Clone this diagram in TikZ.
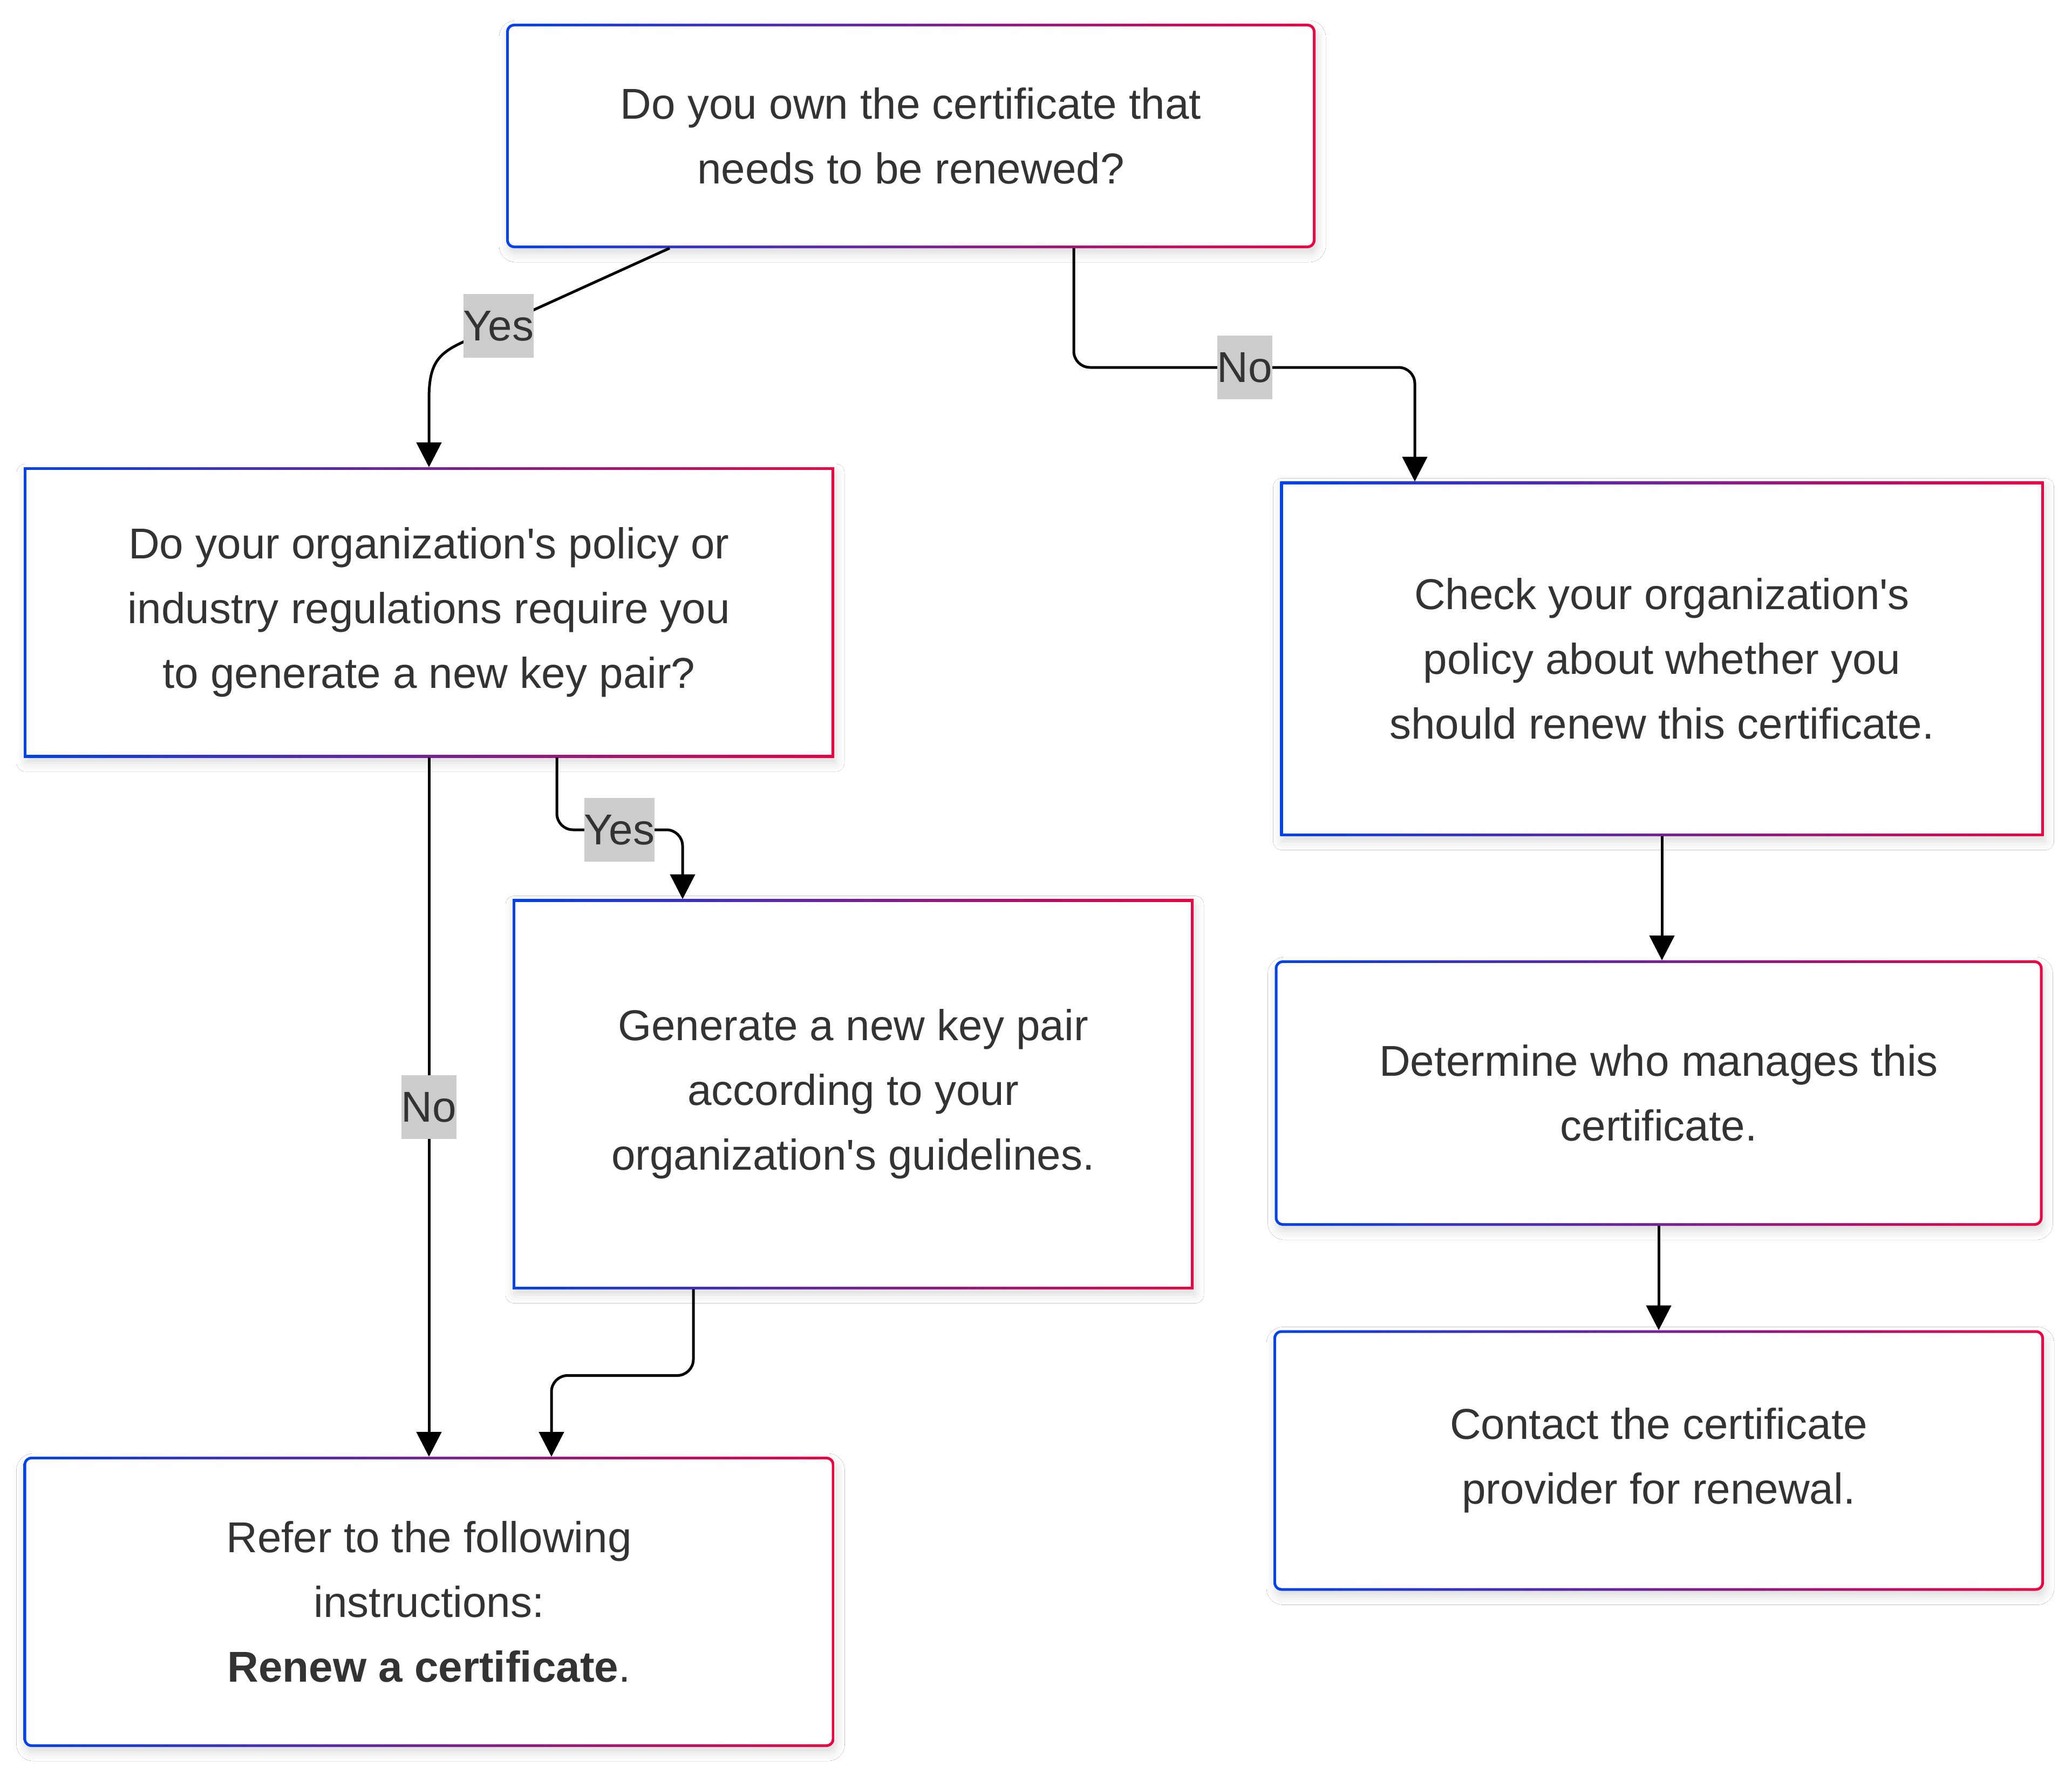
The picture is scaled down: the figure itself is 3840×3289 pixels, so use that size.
\documentclass[tikz,border=0pt]{standalone}
\usepackage{fontspec}
\usepackage{tikz}
\usetikzlibrary{arrows.meta,shadows.blur}
\newfontfamily\flowfont{Liberation Sans}
\definecolor{cblue}{HTML}{0042EB}
\definecolor{cred}{HTML}{EB0042}
\definecolor{txt}{HTML}{333333}
\definecolor{lblgray}{HTML}{CCCCCC}
\newcommand{\apos}{\textquotesingle}

\begin{document}
\begin{tikzpicture}[x=1pt,y=-1pt]

\tikzset{boxbase/.style = {rectangle, inner sep=0pt, outer sep=0pt, align=center, text=txt,
  font=\flowfont\fontsize{80}{120}\selectfont, left color=cblue, right color=cred,
  blur shadow={shadow xshift=3pt, shadow yshift=-10pt, shadow blur radius=16pt, shadow opacity=14}}}
\tikzset{sqbox/.style = {boxbase, path picture={\fill[white] ([shift={(5pt,-5pt)}]path picture bounding box.north west) rectangle ([shift={(-5pt,5pt)}]path picture bounding box.south east);}}}
\tikzset{rndbox/.style = {boxbase, rounded corners=15pt, path picture={\fill[white, rounded corners=10pt] ([shift={(5pt,-5pt)}]path picture bounding box.north west) rectangle ([shift={(-5pt,5pt)}]path picture bounding box.south east);}}}
\tikzset{lbl/.style = {sharp corners, fill=lblgray, text=txt, inner xsep=0pt, inner ysep=0pt, minimum height=118pt, font=\flowfont\fontsize{80}{120}\selectfont}}
\tikzset{edge/.style = {-{Triangle[length=46pt,width=46pt]}, line width=5pt, black}}

\fill[white] (0,0) rectangle (3840,3289);
\useasboundingbox (0,0) rectangle (3840,3289);

% boxes
\node[rndbox, minimum width=1500pt, minimum height=416pt] (top) at (1688,252) {Do you own the certificate that\\needs to be renewed?};
\node[sqbox, minimum width=1502pt, minimum height=538pt] (a) at (795,1135) {Do your organization\apos s policy or\\industry regulations require you\\to generate a new key pair?};
\node[sqbox, minimum width=1415pt, minimum height=657pt] (b) at (3080,1221) {Check your organization\apos s\\policy about whether you\\should renew this certificate.};
\node[sqbox, minimum width=1262pt, minimum height=723pt] (c) at (1581,2028) {Generate a new key pair\\according to your\\organization\apos s guidelines.};
\node[rndbox, minimum width=1423pt, minimum height=492pt] (d) at (3074,2026) {Determine who manages this\\certificate.};
\node[rndbox, minimum width=1428pt, minimum height=483pt] (e) at (3074,2707) {Contact the certificate\\provider for renewal.};
\node[rndbox, minimum width=1503pt, minimum height=538pt] (f) at (795,2969) {Refer to the following\\instructions:\\\textbf{Renew a certificate}.};

%edges
\draw[edge] ([xshift=-447pt]top.south) -- (924,604) node[lbl] {Yes} -- (858,634) .. controls (810,656) and (795,676) .. (795,740) -- (a.north);
\draw[edge, rounded corners=30pt] ([xshift=302pt]top.south) |- (2307,681) node[lbl] {No} -| ([xshift=-458pt]b.north);
\draw[edge] (a.south) -- node[lbl] {No} (f.north);
\draw[edge, rounded corners=30pt] ([xshift=237pt]a.south) |- (1148,1538) node[lbl] {Yes} -| ([xshift=-316pt]c.north);
\draw[edge, rounded corners=30pt] ([xshift=-296pt]c.south) -- ++(0,160) -| ([xshift=227pt]f.north);
\draw[edge] (b.south) -- (b.south |- d.north);
\draw[edge] (d.south) -- (e.north);
\end{tikzpicture}
\end{document}
